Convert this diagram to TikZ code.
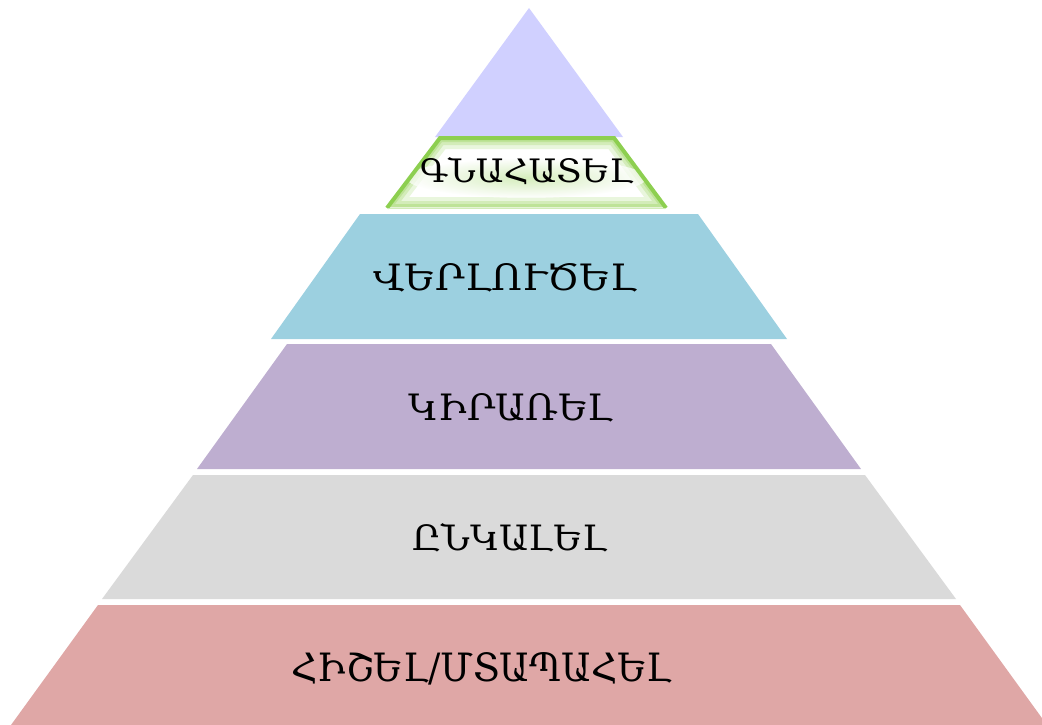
\documentclass[tikz,border=0pt]{standalone}
\usepackage{fontspec}
\setmainfont{DejaVu Serif}
\newfontfamily\armfont{DejaVu Serif}
\definecolor{lav}{RGB}{208,208,255}
\definecolor{grn}{RGB}{141,207,80}
\definecolor{glow}{RGB}{170,220,120}
\definecolor{blu}{RGB}{156,208,224}
\definecolor{pur}{RGB}{190,174,208}
\definecolor{gry}{RGB}{218,218,218}
\definecolor{rdd}{RGB}{223,167,166}
\tikzset{
  lbl/.style={inner sep=0pt, outer sep=0pt, anchor=base, text=black, font=\armfont},
}
\newcommand{\armtxt}[3]{\resizebox{#1}{#2}{#3}}
\begin{document}
\begin{tikzpicture}[x=1pt,y=-1pt]
\useasboundingbox (0,0) rectangle (1042,725);
\clip (0,0) rectangle (1042,725);
% top triangle
\fill[lav] (529,8) -- (623,137) -- (435,137) -- cycle;
% green level
\path[fill=white] (440,138) -- (614,138) -- (666,208) -- (387,208) -- cycle;
\begin{scope}
  \clip (440,138) -- (614,138) -- (666,208) -- (387,208) -- cycle;
  \draw[glow, line width=22pt, opacity=0.25, line join=round] (440,138) -- (614,138) -- (666,208) -- (387,208) -- cycle;
  \draw[glow, line width=14pt, opacity=0.35, line join=round] (440,138) -- (614,138) -- (666,208) -- (387,208) -- cycle;
  \draw[glow, line width=8pt, opacity=0.5, line join=round] (440,138) -- (614,138) -- (666,208) -- (387,208) -- cycle;
  \fill[white, opacity=0.6] (387,207) rectangle (666,209);
  \shade[inner color=glow!70, outer color=white, opacity=0.7] (526.5,178) ellipse [x radius=120pt, y radius=20pt];
\end{scope}
\draw[grn, line width=4pt, line join=miter] (387,208) -- (440,138) -- (614,138) -- (666,208);
\draw[grn!40, line width=1pt] (387,208.5) -- (666,208.5);
% other levels
\fill[blu] (360,214) -- (698,214) -- (787,339) -- (271,339) -- cycle;
\fill[pur] (287,344) -- (771,344) -- (861,469) -- (197,469) -- cycle;
\fill[gry] (193,475) -- (865,475) -- (956,599) -- (102,599) -- cycle;
\fill[rdd] (98,605) -- (960,605) -- (1047,725) -- (11,725) -- cycle;
% labels
\node[lbl] (l5) at (526.5,182) {\armtxt{213pt}{25pt}{ԳՆԱՀԱՏԵԼ}};
\node[lbl] (l4) at (505.5,290) {\armtxt{263pt}{27pt}{ՎԵՐԼՈՒԾԵԼ}};
\node[lbl] (l3) at (511,420) {\armtxt{204pt}{27pt}{ԿԻՐԱՌԵԼ}};
\node[lbl] (l2) at (509.5,550) {\armtxt{195pt}{27pt}{ԸՆԿԱԼԵԼ}};
\node[lbl] (l1) at (481.7,681) {\armtxt{380pt}{29pt}{ՀԻՇԵԼ/ՄՏԱՊԱՀԵԼ}};
\end{tikzpicture}
\end{document}
